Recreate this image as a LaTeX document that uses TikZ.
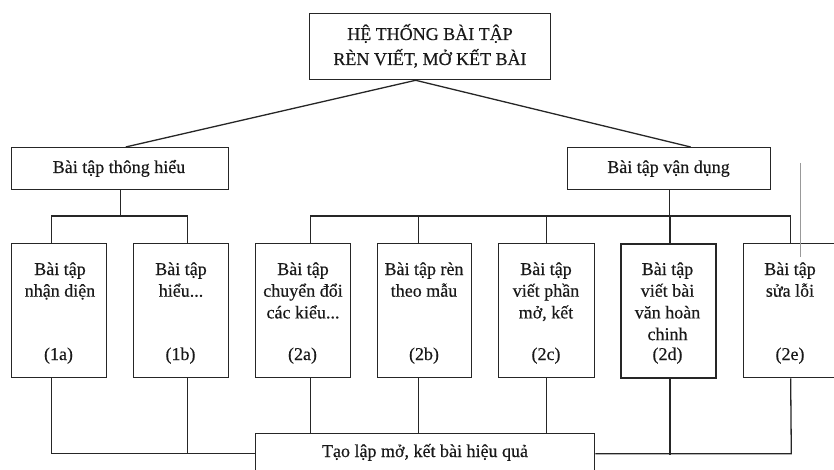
\documentclass[tikz,border=0pt]{standalone}
\usepackage{fontspec}
\setmainfont{Liberation Serif}[FakeBold=0.4]
\usetikzlibrary{calc}
\begin{document}
\begin{tikzpicture}[x=1pt,y=-1pt,
  box/.style={draw=black!85, line width=1.3pt, inner sep=0pt, anchor=north west},
  thickbox/.style={box, line width=2pt},
  txt/.style={font=\fontsize{18}{21.7}\selectfont, align=center, anchor=base, inner sep=0pt, text=black!90},
  link/.style={draw=black!85, line width=1.3pt},
  thicklink/.style={draw=black!85, line width=2pt}]
\useasboundingbox (0,0) rectangle (834,470);
\clip (0,0) rectangle (834,470);
% boxes
\node[box, minimum width=241pt, minimum height=66pt] (top) at (309,13) {};
\node[box, minimum width=217pt, minimum height=42pt] (L) at (11,147) {};
\node[box, minimum width=203pt, minimum height=42pt] (R) at (567,147) {};
\node[box, minimum width=95pt, minimum height=134pt] (b1a) at (11,243) {};
\node[box, minimum width=95pt, minimum height=134pt] (b1b) at (133,243) {};
\node[box, minimum width=95pt, minimum height=134pt] (b2a) at (255,243) {};
\node[box, minimum width=94pt, minimum height=134pt] (b2b) at (377,243) {};
\node[box, minimum width=96pt, minimum height=134pt] (b2c) at (498,243) {};
\node[thickbox, minimum width=95pt, minimum height=134pt] (b2d) at (620,243) {};
\node[box, minimum width=95pt, minimum height=134pt] (b2e) at (743,243) {};
\node[box, minimum width=339pt, minimum height=40pt] (bot) at (255,433) {};
% texts (anchor=base is the baseline of the last line)
\node[txt, font=\fontsize{18}{25}\selectfont] (ttop) at (430,65) {HỆ THỐNG BÀI TẬP\\RÈN VIẾT, MỞ KẾT BÀI};
\node[txt] (tL) at (119,173) {Bài tập thông hiểu};
\node[txt] (tR) at (668.5,173) {Bài tập vận dụng};
\node[txt] (t1a) at (60,296.7) {Bài tập\\nhận diện};
\node[txt] (t1b) at (181,296.7) {Bài tập\\hiểu...};
\node[txt] (t2a) at (303,318.4) {Bài tập\\chuyển đổi\\các kiểu...};
\node[txt] (t2b) at (424,296.7) {Bài tập rèn\\theo mẫu};
\node[txt] (t2c) at (546,318.4) {Bài tập\\viết phần\\mở, kết};
\node[txt] (t2d) at (667.5,340.1) {Bài tập\\viết bài\\văn hoàn\\chinh};
\node[txt] (t2e) at (790,296.7) {Bài tập\\sửa lỗi};
\node[txt] (l1a) at (58.5,360) {(1a)};
\node[txt] (l1b) at (180.5,360) {(1b)};
\node[txt] (l2a) at (302.5,360) {(2a)};
\node[txt] (l2b) at (424,360) {(2b)};
\node[txt] (l2c) at (546,360) {(2c)};
\node[txt] (l2d) at (667.5,360) {(2d)};
\node[txt] (l2e) at (790,360) {(2e)};
\node[txt] (tbot) at (425,457) {Tạo lập mở, kết bài hiệu quả};
% top connectors
\draw[link] ([xshift=5.5pt]L.north) -- ([xshift=-14.5pt]top.south) -- ([xshift=21.5pt]R.north);
% left bus
\draw[link] (L.south) -- ++(0,27);
\draw[link] ([xshift=-7.5pt]b1a.north) -- ++(0,-27) -| ([xshift=6.5pt]b1b.north);
% right bus
\draw[link] (R.south) -- ++(0,27);
\draw[link] ([xshift=7.5pt]b2a.north) -- ++(0,-27) -| ([xshift=-0.5pt]b2e.north);
\draw[link] ([xshift=-6pt]b2b.north) -- ++(0,-27);
\draw[link] (b2c.north) -- ++(0,-27);
\draw[thicklink] ([xshift=1.5pt]b2d.north) -- ++(0,-27);
% bottom connectors
\draw[link] ([xshift=-7.5pt]b1a.south) |- (bot.west);
\draw[link] ([xshift=6.5pt]b1b.south) -- ++(0,76);
\draw[link] ([xshift=7.5pt]b2a.south) -- ++(0,56);
\draw[link] ([xshift=-6pt]b2b.south) -- ++(0,56);
\draw[link] (b2c.south) -- ++(0,56);
\draw[thicklink] ([xshift=1.5pt]b2d.south) -- ++(0,76);
\draw[link] (bot.east) -- ++(196,0) -- ([xshift=-0.5pt]b2e.south);
% scan mark
\draw[black!40, line width=0.5pt] (800,163) -- (800,257);
\end{tikzpicture}
\end{document}
